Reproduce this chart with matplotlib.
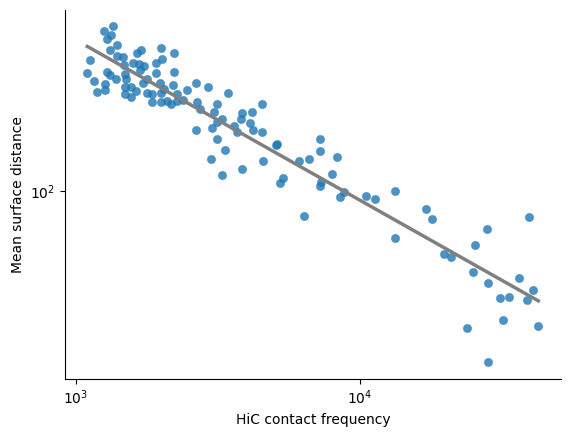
import numpy as np
import matplotlib
matplotlib.use("Agg")
import matplotlib.pyplot as plt
from matplotlib.ticker import NullLocator

# HiC contact frequency vs mean surface distance
hic_freq = [
    1359, 1263, 1330, 1294, 1404, 1326, 1127, 1404, 1474, 1651,
    1705, 2005, 2228, 2021, 1925, 1598, 1669, 1735, 1687, 1476,
    1100, 1294, 1326, 1497, 1392, 1506, 1165, 1925, 2228, 1790,
    1722, 1273, 1273, 1193, 1497, 1572, 1627, 1497, 1571, 1790,
    1855, 1989, 1997, 2049, 2201, 2272, 1852, 2000, 2100, 2165,
    2272, 2397, 2475, 2663, 2936, 3452, 2685, 2733, 3149, 3081,
    3272, 3157, 2663, 3012, 3157, 3369, 3007, 3285, 3864, 3600,
    3710, 3864, 3836, 4194, 4127, 4228, 4517, 4547, 4585, 5123,
    5082, 5357, 5228, 6138, 6656, 6392, 7233, 7233, 8352, 8020,
    7320, 7272, 8835, 8551, 10566, 11366, 13370, 13370, 17150, 18050,
    19890, 21050, 28180, 25570, 25160, 28410, 36530, 39620, 40930, 38980,
    33690, 31230, 32090, 23970, 28410, 42620,
]
surface_dist = [
    220.7, 215.1, 211.1, 207.6, 201.2, 196.4, 187.5, 191.1, 189.9, 193.6,
    196.4, 198.6, 193.6, 188.1, 184.5, 184.8, 183.6, 182.6, 178.4, 183.4,
    176.1, 177.0, 174.2, 175.7, 170.9, 170.9, 169.3, 175.9, 177.4, 170.9,
    167.6, 167.1, 162.1, 160.8, 164.4, 164.4, 162.0, 159.0, 157.3, 159.8,
    159.1, 167.6, 159.8, 163.5, 166.1, 159.2, 153.1, 153.1, 154.3, 151.6,
    154.2, 154.7, 162.2, 167.7, 164.4, 159.9, 153.1, 148.0, 151.6, 146.5,
    141.3, 139.1, 134.1, 135.4, 128.1, 121.6, 116.4, 107.8, 111.0, 136.7,
    132.6, 145.2, 141.6, 145.9, 138.4, 134.0, 151.6, 132.5, 115.3, 125.1,
    125.0, 106.3, 103.8, 115.3, 116.4, 88.6, 128.1, 121.0, 117.5, 108.3,
    104.4, 102.7, 99.4, 97.0, 97.5, 96.1, 99.9, 79.7, 91.6, 87.3,
    73.8, 72.8, 83.2, 77.4, 67.7, 64.2, 65.8, 88.2, 62.1, 59.2,
    60.1, 59.8, 53.8, 51.8, 44.0, 52.3,
]

x = np.array(hic_freq, dtype=float)
y = np.array(surface_dist, dtype=float)

# fit lineare in log-log
slope, intercept = np.polyfit(np.log10(x), np.log10(y), 1)
x_fit = np.array([x.min(), x.max()])
y_fit = 10 ** (intercept + slope * np.log10(x_fit))

fig = plt.figure(figsize=(5.7, 4.37), dpi=100)
ax = fig.add_axes([65 / 570, 1 - 379 / 437, 496 / 570, 369 / 437])

ax.scatter(x, y, s=36, color="#1f77b4", alpha=0.8, edgecolors="face", linewidths=0.3, zorder=2)
ax.plot(x_fit, y_fit, color="gray", lw=2.5, zorder=3)

ax.set_xscale("log")
ax.set_yscale("log")
ax.set_xlim(918, 51230)
ax.set_ylim(40.6, 238.4)
ax.xaxis.set_minor_locator(NullLocator())
ax.yaxis.set_minor_locator(NullLocator())

ax.set_xlabel("HiC contact frequency")
ax.set_ylabel("Mean surface distance")

for side in ("top", "right"):
    ax.spines[side].set_visible(False)

plt.savefig("out.png", dpi=100)
